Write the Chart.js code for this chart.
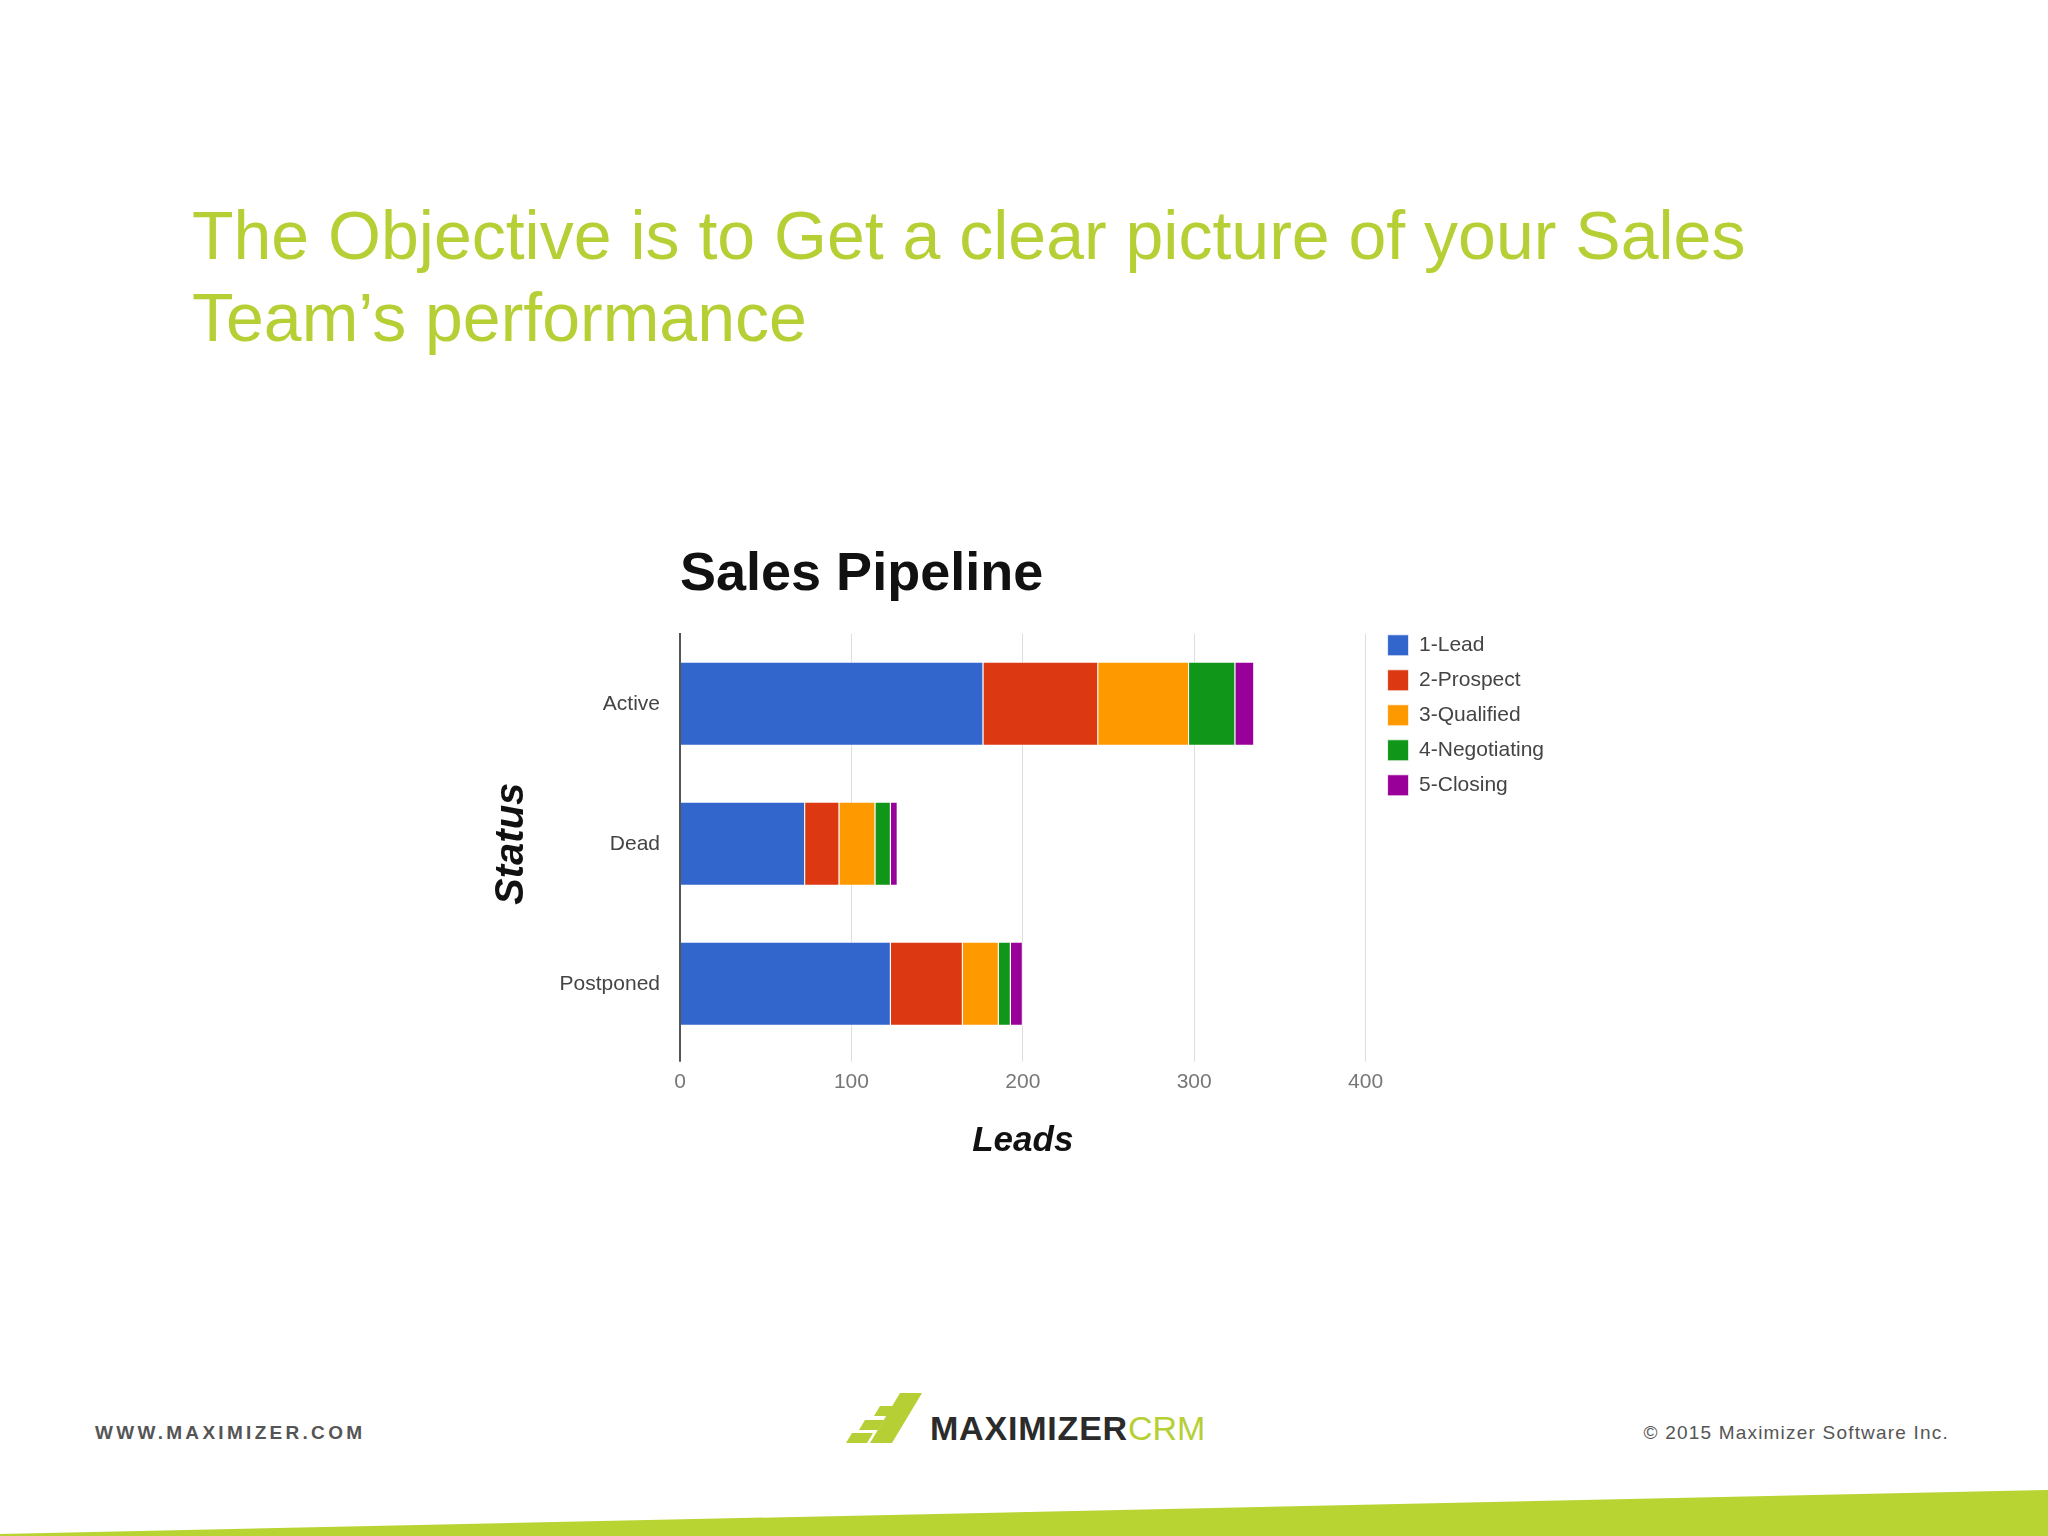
<!DOCTYPE html>
<html>
<head>
<meta charset="utf-8">
<script src="https://cdn.jsdelivr.net/npm/chart.js@4.4.1/dist/chart.umd.min.js"></script>
<style>
  html, body { margin: 0; padding: 0; background: #ffffff; }
  body { width: 2048px; height: 1536px; position: relative; overflow: hidden; font-family: "Liberation Sans", Arial, sans-serif; }
  .titulo { position: absolute; left: 192px; top: 194px; color: #b5cf35; font-size: 68px; line-height: 82px; margin: 0; font-weight: normal; }
  .lienzo { position: absolute; left: 440px; top: 520px; width: 1180px; height: 642px; }
  .web { position: absolute; left: 95px; top: 1422px; font-size: 19px; font-weight: bold; letter-spacing: 3.3px; color: #555; }
  .copy { position: absolute; right: 99px; top: 1422px; font-size: 19px; letter-spacing: 1.2px; color: #555; }
  .logo { position: absolute; left: 846px; top: 1393px; }
  .marca { position: absolute; left: 930px; top: 1409px; font-size: 34px; font-weight: bold; color: #2b2b2b; letter-spacing: 0.8px; }
  .marca span { color: #b5cf35; font-weight: normal; letter-spacing: 0; }
  .franja { position: absolute; left: 0; top: 0; }
</style>
</head>
<body>
<h1 class="titulo">The Objective is to Get a clear picture of your Sales<br>Team’s performance</h1>

<div class="lienzo"><canvas id="graficoPipeline" width="1180" height="642"></canvas></div>

<div class="web">WWW.MAXIMIZER.COM</div>
<svg class="logo" width="84" height="50" viewBox="0 0 84 50">
  <polygon points="54,0 76,0 46,50 24,50" fill="#b5cf35"/>
  <polygon points="34,13 47,13 41,23 28,23" fill="#b5cf35"/>
  <polygon points="19,27 38,27 32,37 13,37" fill="#b5cf35"/>
  <polygon points="6,40 27,40 21,50 0,50" fill="#b5cf35"/>
</svg>
<div class="marca">MAXIMIZER<span>CRM</span></div>
<div class="copy">© 2015 Maximizer Software Inc.</div>

<svg class="franja" width="2048" height="1536">
  <polygon points="0,1534 2048,1490 2048,1536 0,1536" fill="#b8d432"/>
</svg>

<script>
// Datos (leads por estado y etapa)
const estados = ["Active", "Dead", "Postponed"];
const etapas = ["1-Lead", "2-Prospect", "3-Qualified", "4-Negotiating", "5-Closing"];
const lead = [177, 73, 123];
const prospect = [67, 20, 42];
const qualified = [53, 21, 21];
const negotiating = [27, 9, 7];
const closing = [11, 4, 7];
const ticksLeads = [0, 100, 200, 300, 400];

// Paleta clásica de Google Charts
const colores = ["#3366cc", "#dc3912", "#ff9900", "#109618", "#990099"];
const series = [lead, prospect, qualified, negotiating, closing];

// La leyenda del original arranca pegada al borde superior del área de datos
const ajusteLeyenda = {
  id: "ajusteLeyenda",
  afterLayout(chart) {
    const l = chart.legend;
    if (!l) return;
    l.top -= 13;
    l.bottom -= 13;
    l.left += 8;
    l.right += 8;
  },
};

const ctx = document.getElementById("graficoPipeline").getContext("2d");

new Chart(ctx, {
  type: "bar",
  data: {
    labels: estados,
    datasets: etapas.map((nombre, i) => ({
      label: nombre,
      data: series[i],
      backgroundColor: colores[i],
      borderColor: "rgba(255,255,255,0.75)",
      borderWidth: 1,
      categoryPercentage: 0.6,
      barPercentage: 1,
    })),
  },
  plugins: [ajusteLeyenda],
  options: {
    indexAxis: "y",
    responsive: false,
    animation: false,
    layout: { padding: { left: 0, right: 74, top: 0, bottom: 0 } },
    plugins: {
      title: {
        display: true,
        text: "Sales Pipeline",
        align: "start",
        fullSize: false,
        color: "#111",
        font: { family: "Liberation Sans", size: 54, weight: "bold" },
        padding: { top: 23, bottom: 26 },
      },
      legend: {
        position: "right",
        align: "start",
        fullSize: false,
        labels: {
          boxWidth: 21,
          boxHeight: 21,
          padding: 14,
          color: "#444",
          font: { family: "Liberation Sans", size: 21 },
        },
      },
      tooltip: { enabled: false },
    },
    scales: {
      x: {
        stacked: true,
        min: 0,
        max: 400,
        afterBuildTicks: (scale) => {
          scale.ticks = ticksLeads.map((v) => ({ value: v }));
        },
        grid: {
          color: (c) => (c.tick && c.tick.value === 0 ? "#555" : "#dedede"),
          lineWidth: (c) => (c.tick && c.tick.value === 0 ? 2 : 1),
          tickLength: 8,
        },
        border: { display: false },
        ticks: {
          color: "#777",
          padding: 8,
          font: { family: "Liberation Sans", size: 21 },
        },
        title: {
          display: true,
          text: "Leads",
          color: "#111",
          font: { family: "Liberation Sans", size: 35, weight: "bold", style: "italic" },
          padding: { top: 17, bottom: 0 },
        },
      },
      y: {
        stacked: true,
        grid: { display: false, drawTicks: false },
        border: { display: true, color: "#555", width: 2 },
        ticks: {
          color: "#444",
          padding: 20,
          font: { family: "Liberation Sans", size: 21 },
        },
        title: {
          display: true,
          text: "Status",
          color: "#111",
          font: { family: "Liberation Sans", size: 40, weight: "bold", style: "italic" },
          padding: { top: 48, bottom: 0 },
        },
        afterFit: (scale) => {
          scale.width = 240;
        },
      },
    },
  },
});
</script>
</body>
</html>
